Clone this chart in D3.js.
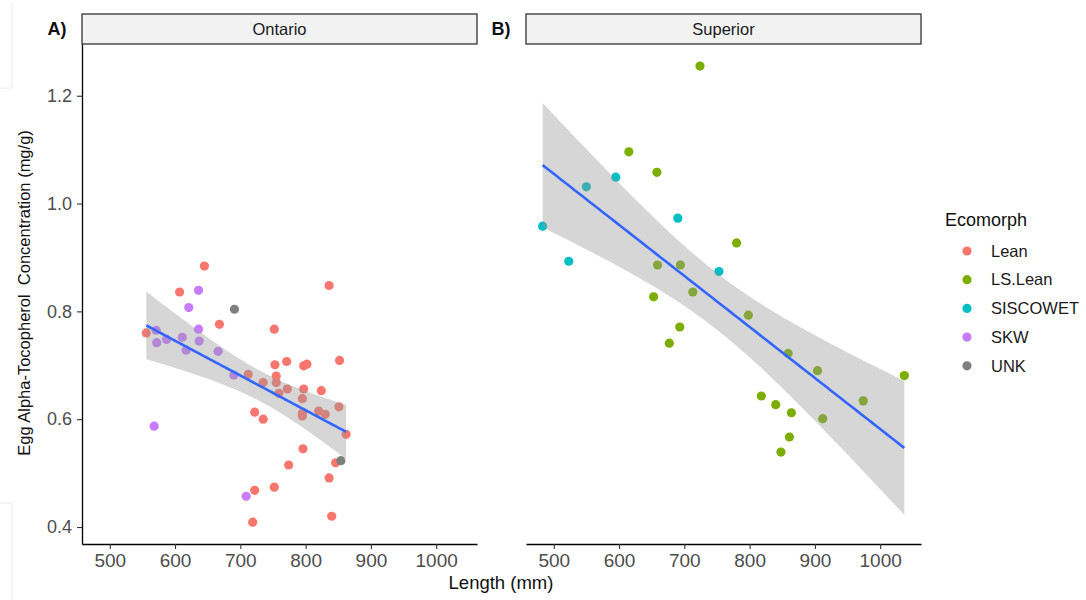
<!DOCTYPE html>
<html>
<head>
<meta charset="utf-8">
<script src="https://cdn.jsdelivr.net/npm/d3@7"></script>
<style>
  body { margin: 0; background: #fff; }
  text { font-family: "Liberation Sans", Arial, sans-serif; }
</style>
</head>
<body>
<div id="chart"></div>
<script>
// Egg alpha-tocopherol vs length, faceted by lake

// Data: [length (mm), concentration (mg/g)]
const ontarioLean = [
  [556, 0.760], [607, 0.836], [645, 0.884], [668, 0.776], [752, 0.767],
  [753, 0.701], [755, 0.680], [755, 0.668], [712, 0.683], [735, 0.668],
  [722, 0.613], [735, 0.600], [836, 0.848], [771, 0.707], [797, 0.699],
  [802, 0.702], [852, 0.709], [772, 0.656], [797, 0.656], [824, 0.653],
  [759, 0.648], [795, 0.638], [851, 0.623], [795, 0.611], [795, 0.606],
  [820, 0.615], [830, 0.609], [862, 0.572], [796, 0.545], [774, 0.515],
  [846, 0.519], [836, 0.491], [752, 0.474], [840, 0.420], [722, 0.468],
  [719, 0.409]
];
const ontarioSKW = [
  [636, 0.839], [621, 0.807], [571, 0.765], [636, 0.767], [572, 0.742],
  [587, 0.748], [611, 0.752], [617, 0.728], [637, 0.745], [666, 0.726],
  [690, 0.682], [568, 0.587], [709, 0.457]
];
const ontarioUNK = [[691, 0.804], [854, 0.523]];

const superiorLSLean = [
  [724, 1.255], [615, 1.096], [658, 1.058], [780, 0.927], [798, 0.793],
  [859, 0.722], [904, 0.690], [1037, 0.681], [818, 0.643], [840, 0.627],
  [864, 0.612], [912, 0.601], [974, 0.634], [861, 0.567], [848, 0.539],
  [659, 0.886], [694, 0.886], [713, 0.836], [653, 0.827], [693, 0.771],
  [677, 0.741]
];
const superiorSiscowet = [
  [595, 1.049], [550, 1.031], [690, 0.973], [483, 0.958], [523, 0.893],
  [753, 0.874]
];

const ecomorphs = ['Lean', 'LS.Lean', 'SISCOWET', 'SKW', 'UNK'];
const ecomorphColors = ['#F8766D', '#7CAE00', '#00BFC4', '#C77CFF', '#7F7F7F'];
const xTicks = [500, 600, 700, 800, 900, 1000];
const yTicks = [0.4, 0.6, 0.8, 1.0, 1.2];

const panels = [
  { label: 'A)', lake: 'Ontario', range: [82, 477],
    groups: [['Lean', ontarioLean], ['SKW', ontarioSKW], ['UNK', ontarioUNK]] },
  { label: 'B)', lake: 'Superior', range: [526, 921],
    groups: [['LS.Lean', superiorLSLean], ['SISCOWET', superiorSiscowet]] }
];

const colorScale = d3.scaleOrdinal().domain(ecomorphs).range(ecomorphColors);
const yScale = d3.scaleLinear().domain([0.3685, 1.296]).range([544, 44]);

const svg = d3.select('#chart').append('svg')
  .attr('width', 1086)
  .attr('height', 600)
  .style('background', '#fff');

// faint screenshot frame remnants on the left edge
svg.append('path')
  .attr('d', 'M12,2V88H0M0,503H12V600')
  .attr('fill', 'none')
  .attr('stroke', '#ececec')
  .attr('stroke-width', 1);

// student t quantile (two-sided 95%) via Cornish-Fisher expansion
function tQuantile(df) {
  const z = 1.959964;
  return z + (z ** 3 + z) / (4 * df)
    + (5 * z ** 5 + 16 * z ** 3 + 3 * z) / (96 * df ** 2)
    + (3 * z ** 7 + 19 * z ** 5 + 17 * z ** 3 - 15 * z) / (384 * df ** 3);
}

// linear model with 95% confidence band, like geom_smooth(method = 'lm')
function lmBand(points) {
  const n = points.length;
  const mx = d3.mean(points, d => d[0]);
  const my = d3.mean(points, d => d[1]);
  const sxx = d3.sum(points, d => (d[0] - mx) ** 2);
  const sxy = d3.sum(points, d => (d[0] - mx) * (d[1] - my));
  const b = sxy / sxx;
  const a = my - b * mx;
  const s = Math.sqrt(d3.sum(points, d => (d[1] - a - b * d[0]) ** 2) / (n - 2));
  const t = tQuantile(n - 2);
  const [x0, x1] = d3.extent(points, d => d[0]);
  return d3.range(80).map(i => {
    const x = x0 + (x1 - x0) * i / 79;
    const fit = a + b * x;
    const se = s * Math.sqrt(1 / n + (x - mx) ** 2 / sxx);
    return { x, fit, lo: fit - t * se, hi: fit + t * se };
  });
}

panels.forEach((panel, pi) => {
  const xScale = d3.scaleLinear().domain([457.5, 1062.5]).range(panel.range);
  const g = svg.append('g');

  // strip
  g.append('rect')
    .attr('x', panel.range[0])
    .attr('y', 14)
    .attr('width', panel.range[1] - panel.range[0])
    .attr('height', 30)
    .attr('fill', '#f2f2f2')
    .attr('stroke', '#333')
    .attr('stroke-width', 1.3);

  g.append('text')
    .attr('x', (panel.range[0] + panel.range[1]) / 2)
    .attr('y', 29)
    .attr('dy', '0.35em')
    .attr('text-anchor', 'middle')
    .style('font-size', '16.5px')
    .attr('fill', '#1a1a1a')
    .text(panel.lake);

  g.append('text')
    .attr('x', panel.range[0] - 25)
    .attr('y', 29)
    .attr('dy', '0.35em')
    .attr('text-anchor', 'middle')
    .style('font-size', '18px')
    .style('font-weight', 'bold')
    .attr('fill', '#111')
    .text(panel.label);

  // points
  panel.groups.forEach(([morph, pts]) => {
    g.selectAll(null)
      .data(pts)
      .enter()
      .append('circle')
      .attr('cx', d => xScale(d[0]))
      .attr('cy', d => yScale(d[1]))
      .attr('r', 4.6)
      .attr('fill', colorScale(morph));
  });

  // smoother
  const all = panel.groups.flatMap(gr => gr[1]);
  const band = lmBand(all);

  g.append('path')
    .datum(band)
    .attr('fill', '#999999')
    .attr('fill-opacity', 0.4)
    .attr('d', d3.area().x(d => xScale(d.x)).y0(d => yScale(d.lo)).y1(d => yScale(d.hi)));

  g.append('path')
    .datum(band)
    .attr('fill', 'none')
    .attr('stroke', '#3366FF')
    .attr('stroke-width', 2.6)
    .attr('d', d3.line().x(d => xScale(d.x)).y(d => yScale(d.fit)));

  // x axis
  const xAxis = g.append('g')
    .attr('transform', 'translate(0,544)')
    .call(d3.axisBottom(xScale).tickValues(xTicks).tickFormat(d3.format('d'))
      .tickSize(5).tickPadding(5).tickSizeOuter(0));
  xAxis.select('.domain').attr('stroke', '#000').attr('stroke-width', 1.3);
  xAxis.selectAll('.tick line').attr('stroke', '#333').attr('stroke-width', 1.1);
  xAxis.selectAll('.tick text')
    .attr('fill', '#4d4d4d')
    .style('font-size', '19px')
    .style('font-family', '"Liberation Sans", Arial, sans-serif');

  // y axis only on the first panel
  if (pi === 0) {
    const yAxis = g.append('g')
      .attr('transform', `translate(${panel.range[0]},0)`)
      .call(d3.axisLeft(yScale).tickValues(yTicks).tickFormat(d3.format('.1f'))
        .tickSize(5).tickPadding(5).tickSizeOuter(0));
    yAxis.select('.domain').attr('stroke', '#000').attr('stroke-width', 1.3);
    yAxis.selectAll('.tick line').attr('stroke', '#333').attr('stroke-width', 1.1);
    yAxis.selectAll('.tick text')
      .attr('fill', '#4d4d4d')
      .style('font-size', '18px')
      .style('font-family', '"Liberation Sans", Arial, sans-serif');
  }
});

// axis titles
svg.append('text')
  .attr('x', 501)
  .attr('y', 589)
  .attr('text-anchor', 'middle')
  .style('font-size', '18.5px')
  .attr('fill', '#111')
  .text('Length (mm)');

svg.append('text')
  .attr('transform', 'translate(30,293) rotate(-90)')
  .attr('text-anchor', 'middle')
  .style('font-size', '16.5px')
  .style('white-space', 'pre')
  .attr('fill', '#111')
  .text('Egg Alpha-Tocopherol  Concentration (mg/g)');

// legend
const legend = svg.append('g').attr('transform', 'translate(945,0)');

legend.append('text')
  .attr('x', 0)
  .attr('y', 226)
  .style('font-size', '18px')
  .attr('fill', '#111')
  .text('Ecomorph');

ecomorphs.forEach((item, i) => {
  const cy = 251 + i * 28.7;
  legend.append('circle')
    .attr('cx', 22)
    .attr('cy', cy)
    .attr('r', 4.6)
    .attr('fill', colorScale(item));
  legend.append('text')
    .attr('x', 46)
    .attr('y', cy)
    .attr('dy', '0.35em')
    .style('font-size', '16.5px')
    .attr('fill', '#1a1a1a')
    .text(item);
});
</script>
</body>
</html>
